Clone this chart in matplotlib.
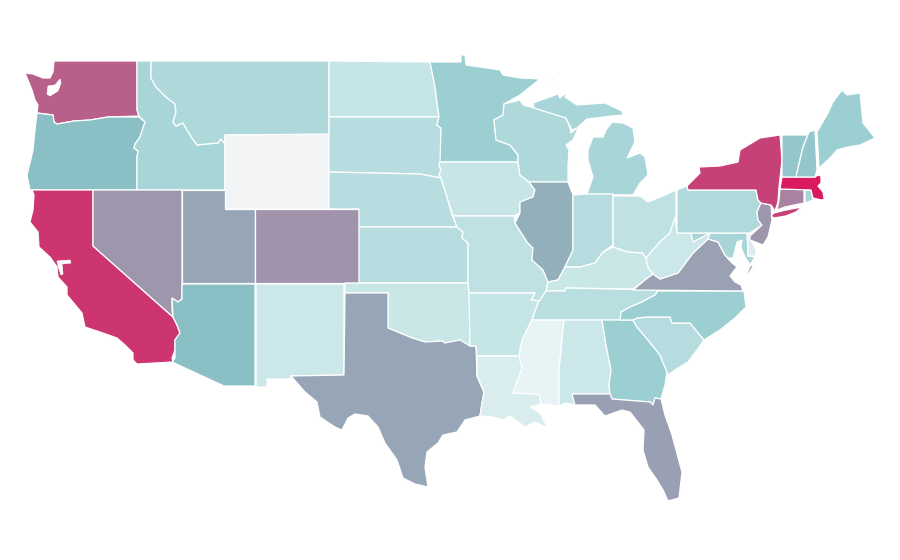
import matplotlib
matplotlib.use("Agg")
import matplotlib.pyplot as plt
from matplotlib.colors import LinearSegmentedColormap, Normalize
from matplotlib.patches import Polygon

states = ["WA","OR","CA","ID","NV","MT","WY","UT","AZ","CO","NM","ND","SD","NE","KS","OK","TX",
          "MN","IA","MO","AR","LA","WI","IL","MI","IN","OH","KY","TN","MS","AL","GA","FL","SC","NC",
          "VA","WV","MD","DE","PA","NJ","NY","CT","RI","MA","VT","NH","ME"]
values = [75,40,90.5,29,55,26.5,0,49,40,56,15,17.5,23,23,23,16,49,
          34,17,20,17.5,10.5,26.5,46,29,23.5,20,16,22.5,5,15.5,34,51.5,23.5,34,
          51,15.5,29,10,26,55,86,62,29,100,37,37,34]

outlines = {
"WA":[[(54,61),(137,61),(137,110),(139,116),(108,117),(90,120),(74,121),(57,124),(54,122),(53,115),(37,113),(38,105),(35,100),(32,90),(25,73),(33,74),(43,78),(50,78),(53,72)]],
"OR":[[(37,113),(53,115),(54,122),(57,124),(74,121),(90,120),(108,117),(139,117),(145,122),(143,128),(140,137),(135,144),(134,148),(138,151),(137,157),(137,190),(30,190),(27,175),(30,163),(33,150),(35,130)]],
"CA":[[(32,190),(93,190),(93,246),(173,317),(177,325),(180,333),(175,340),(175,350),(172,358),(173,362),(137,364),(133,360),(133,353),(125,345),(117,338),(100,332),(85,327),(82,313),(67,295),(67,287),(58,277),(57,267),(50,257),(39,247),(38,232),(30,222),(33,210),(34,195)]],
"ID":[[(137,61),(151,61),(151,78),(156,87),(166,97),(175,104),(176,112),(173,122),(176,126),(183,123),(187,130),(192,138),(197,145),(206,144),(218,143),(221,139),(225,144),(225,190),(137,190),(137,157),(138,151),(134,148),(135,144),(140,137),(143,128),(145,122),(139,116),(137,110)]],
"NV":[[(93,190),(182,190),(182,299),(178,302),(172,298),(172,310),(173,317),(93,246)]],
"MT":[[(151,61),(329,61),(329,135),(225,135),(225,144),(221,139),(218,143),(206,144),(197,145),(192,138),(187,130),(183,123),(176,126),(173,122),(176,112),(175,104),(166,97),(156,87),(151,78)]],
"WY":[[(225,135),(329,134),(329,209),(225,209)]],
"UT":[[(182,190),(225,190),(225,209),(255,209),(255,283),(182,283)]],
"AZ":[[(182,284),(255,284),(255,386),(224,386),(172,362),(175,358),(175,350),(175,340),(180,333),(177,325),(173,317),(172,298),(178,302),(182,299)]],
"CO":[[(255,209),(359,209),(359,283),(255,283)]],
"NM":[[(256,284),(344,284),(344,375),(291,376),(290,379),(267,379),(267,387),(256,387)]],
"ND":[[(329,61),(430,62),(435,87),(439,117),(329,117)]],
"SD":[[(329,117),(439,117),(437,125),(441,128),(441,162),(439,165),(441,170),(439,175),(441,178),(430,176),(420,174),(329,172)]],
"NE":[[(329,172),(420,174),(430,176),(441,178),(447,197),(452,215),(457,227),(359,227),(359,209),(329,209)]],
"KS":[[(359,227),(457,227),(463,232),(462,238),(468,243),(468,283),(359,283)]],
"OK":[[(345,283),(468,283),(469,293),(470,303),(470,346),(460,340),(445,343),(442,341),(425,342),(412,338),(400,333),(388,328),(388,293),(345,293)]],
"TX":[[(345,293),(388,293),(388,328),(400,333),(412,338),(425,342),(442,341),(445,343),(460,340),(470,346),(476,346),(477,376),(484,392),(482,403),(480,416),(465,420),(457,432),(443,435),(438,443),(427,452),(425,467),(428,487),(415,484),(403,478),(397,460),(385,443),(378,427),(368,416),(355,414),(348,418),(342,430),(335,427),(320,417),(317,402),(305,392),(291,376),(344,375)]],
"MN":[[(430,62),(461,62),(461,55),(465,55),(466,65),(480,67),(500,70),(503,75),(520,78),(540,79),(520,95),(504,104),(503,115),(494,120),(496,140),(510,145),(518,155),(518,162),(440,162),(441,128),(437,125),(439,117),(435,87)]],
"IA":[[(440,162),(518,162),(520,175),(529,182),(535,190),(533,197),(520,202),(520,213),(514,216),(453,216),(447,197),(441,178),(439,175),(441,170),(439,165)]],
"MO":[[(453,216),(514,216),(515,223),(527,242),(533,248),(532,260),(543,270),(548,282),(546,291),(541,301),(531,300),(535,293),(469,293),(468,283),(468,243),(462,238),(463,232),(457,227)]],
"AR":[[(469,293),(535,293),(531,300),(541,301),(538,303),(532,320),(522,340),(519,356),(477,356),(476,346),(470,346)]],
"LA":[[(477,356),(519,356),(522,368),(513,393),(539,394),(541,404),(530,407),(540,413),(548,428),(535,422),(525,427),(510,416),(503,420),(493,417),(480,416),(482,403),(484,392),(477,376)]],
"WI":[[(504,104),(520,100),(523,105),(534,108),(566,118),(570,128),(571,133),(579,126),(573,140),(566,145),(569,150),(568,165),(568,182),(529,182),(520,175),(518,162),(518,155),(510,145),(496,140),(494,120),(503,115)]],
"IL":[[(529,182),(568,182),(573,195),(573,250),(565,267),(558,280),(548,282),(543,270),(532,260),(533,248),(527,242),(515,223),(520,213),(520,202),(533,197),(535,190)]],
"MI":[[(534,108),(533,103),(558,94),(560,98),(568,91),(565,97),(577,105),(605,103),(622,111),(623,115),(612,116),(587,119),(577,128),(572,130),(566,118)],
      [(612,122),(623,123),(633,128),(635,142),(627,158),(640,153),(645,157),(648,175),(640,183),(633,195),(587,194),(593,177),(588,160),(588,150),(593,137),(603,137),(606,130)],
      [(549,80),(555,78),(554,80),(550,81)]],
"IN":[[(573,195),(586,194),(613,194),(613,245),(603,252),(595,263),(580,267),(565,267),(573,250)]],
"OH":[[(613,196),(640,196),(648,202),(665,195),(676,190),(676,217),(670,233),(660,242),(646,258),(642,253),(627,252),(613,247)]],
"KY":[[(546,291),(565,291),(566,288),(633,289),(645,280),(653,274),(648,267),(646,258),(642,253),(627,252),(613,247),(603,252),(595,263),(580,267),(565,267),(558,280),(548,282)]],
"TN":[[(532,320),(538,303),(546,291),(565,291),(566,288),(658,290),(655,295),(642,302),(630,307),(621,312),(620,320)]],
"MS":[[(532,320),(564,320),(559,370),(559,406),(541,404),(539,394),(513,393),(522,368),(519,356),(522,340)]],
"AL":[[(564,320),(602,320),(606,345),(611,370),(609,385),(610,394),(572,394),(575,405),(566,403),(559,406),(559,370)]],
"GA":[[(602,320),(633,320),(637,327),(648,340),(660,355),(667,372),(665,385),(661,399),(655,398),(653,405),(650,402),(612,399),(610,394),(609,385),(611,370),(606,345)]],
"FL":[[(572,394),(610,394),(612,399),(650,402),(653,405),(655,398),(661,399),(665,415),(672,435),(680,465),(682,472),(679,498),(668,501),(663,490),(657,480),(648,467),(643,450),(644,430),(630,412),(622,410),(605,416),(595,405),(575,405)]],
"SC":[[(633,320),(637,318),(647,317),(670,317),(672,323),(690,323),(704,340),(697,350),(688,362),(675,370),(668,375),(660,355),(648,340),(637,327)]],
"NC":[[(658,291),(744,291),(746,307),(735,318),(720,330),(704,340),(690,323),(672,323),(670,317),(647,317),(637,318),(633,320),(620,320),(621,312),(630,307),(642,302),(655,295)]],
"VA":[[(633,290),(645,280),(653,274),(660,279),(678,273),(693,253),(708,239),(718,242),(725,255),(731,262),(737,267),(733,272),(730,276),(735,282),(741,285),(743,291)],
      [(750,266),(754,265),(746,278),(743,284)]],
"WV":[[(646,258),(660,242),(670,233),(675,217),(677,233),(691,233),(693,242),(710,233),(708,239),(693,253),(678,273),(660,279),(653,274),(648,267)]],
"MD":[[(691,233),(747,233),(748,256),(755,257),(750,265),(745,257),(741,248),(742,240),(737,242),(735,250),(733,258),(728,258),(725,255),(718,242),(708,239),(710,233),(693,242)]],
"DE":[[(748,234),(751,233),(751,240),(756,250),(756,256),(748,256)]],
"PA":[[(677,190),(687,186),(688,190),(756,190),(758,200),(761,203),(757,212),(758,220),(762,225),(750,233),(677,233)]],
"NJ":[[(761,203),(771,205),(772,220),(768,237),(763,245),(750,240),(750,236),(762,225),(758,220),(757,212)]],
"NY":[[(688,190),(687,186),(700,173),(699,167),(720,166),(738,162),(740,150),(760,138),(780,135),(782,160),(779,187),(778,202),(775,211),(771,205),(761,203),(758,200),(756,190)],
      [(771,216),(774,213),(786,210),(802,207),(796,212),(786,216),(774,218)]],
"CT":[[(780,189),(804,189),(804,203),(785,207),(777,210),(779,200)]],
"RI":[[(805,190),(811,190),(813,200),(805,203)]],
"MA":[[(782,177),(815,177),(818,175),(821,176),(821,183),(818,186),(823,192),(824,198),(830,195),(831,196),(822,200),(817,199),(813,198),(811,190),(780,189)]],
"VT":[[(782,135),(808,135),(803,147),(796,177),(782,177),(782,160)]],
"NH":[[(809,132),(815,130),(817,170),(815,177),(796,177),(803,147)]],
"ME":[[(817,132),(828,113),(833,102),(842,90),(847,95),(860,93),(863,123),(875,138),(860,145),(848,147),(837,150),(830,158),(819,168)]],
}
# inland water cut out of Washington and California
waters = [[(48,86),(55,85),(60,79),(61,83),(58,91),(50,96),(47,94)],
          [(57,261),(70,260),(71,263),(62,264),(63,274),(61,275),(58,266)]]

cmap = LinearSegmentedColormap.from_list("scale", [(0,"#f3f4f6"),(.05,"#e6f3f4"),(.17,"#c7e5e7"),(.265,"#aed8db"),(.34,"#9bcfd2"),(.40,"#8bbfc6"),(1,"#d81b60")])
norm = Normalize(0, 100)

fig = plt.figure(figsize=(9, 5.6), dpi=100, facecolor="white")
ax = fig.add_axes([0, 0, 1, 1])
ax.set_xlim(0, 900)
ax.set_ylim(560, 0)
ax.axis("off")
for state, value in zip(states, values):
    for outline in outlines[state]:
        ax.add_patch(Polygon(outline, closed=True, facecolor=cmap(norm(value)), edgecolor="white", linewidth=0.9))
for water in waters:
    ax.add_patch(Polygon(water, closed=True, facecolor="white", edgecolor="white", linewidth=0.5))
fig.savefig("out.png", dpi=100, facecolor="white")
